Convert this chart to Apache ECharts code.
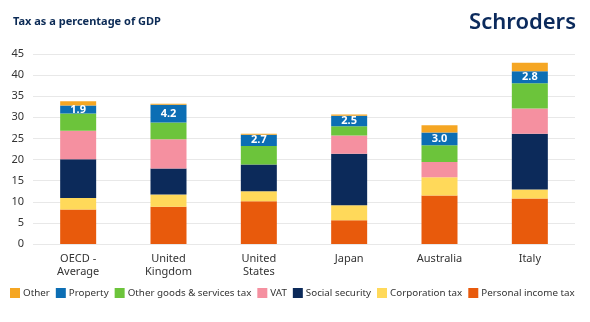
<!DOCTYPE html>
<html>
<head>
<meta charset="utf-8">
<script src="https://cdn.jsdelivr.net/npm/echarts@6/dist/echarts.min.js"></script>
<style>
  html, body { margin: 0; padding: 0; background: #fff; }
  #chart { width: 590px; height: 322px; }
</style>
</head>
<body>
<div id="chart"></div>
<script>
// Tax revenue by type, % of GDP
const countries = ['OECD -\nAverage', 'United\nKingdom', 'United\nStates', 'Japan', 'Australia', 'Italy'];

const personalIncome = [8.2, 8.8, 10.1, 5.6, 11.5, 10.8];
const corporation    = [2.7, 2.9, 2.4, 3.6, 4.3, 2.1];
const socialSecurity = [9.2, 6.2, 6.3, 12.2, 0, 13.2];
const vat            = [6.7, 6.9, 0, 4.3, 3.6, 6.0];
const otherGoods     = [4.1, 4.0, 4.4, 2.2, 4.0, 6.0];
const property       = [1.9, 4.2, 2.7, 2.5, 3.0, 2.8];
const other          = [1.0, 0.2, 0.2, 0.3, 1.7, 2.0];

const yTicks = [0, 5, 10, 15, 20, 25, 30, 35, 40, 45];

const legendOrder = ['Other', 'Property', 'Other goods & services tax', 'VAT',
  'Social security', 'Corporation tax', 'Personal income tax'];

const font = 'Noto Sans';

function bar(name, data, color, withLabel) {
  const s = {
    name: name,
    type: 'bar',
    stack: 'tax',
    barWidth: 36,
    data: data,
    itemStyle: { color: color },
    emphasis: { disabled: true }
  };
  if (withLabel) {
    s.label = {
      show: true,
      position: 'inside',
      color: '#ffffff',
      fontFamily: font,
      fontWeight: 'bold',
      fontSize: 11,
      formatter: p => p.value.toFixed(1)
    };
  }
  return s;
}

const chart = echarts.init(document.getElementById('chart'), null, { renderer: 'canvas' });
chart.setOption({
  animation: false,
  textStyle: { fontFamily: font },
  title: {
    text: 'Tax as a percentage of GDP',
    left: 8,
    top: 11,
    textStyle: { fontFamily: font, fontSize: 11, fontWeight: 'bold', color: '#0b2a55' }
  },
  graphic: [{
    type: 'text',
    right: 14,
    top: 12,
    style: {
      text: 'Schroders',
      fontFamily: font,
      fontSize: 22,
      fontWeight: 600,
      fill: '#0b2a5c'
    }
  }],
  legend: {
    data: legendOrder,
    top: 288,
    left: 10,
    width: 580,
    padding: 0,
    itemWidth: 10,
    itemHeight: 10,
    itemGap: 6,
    icon: 'rect',
    textStyle: { fontFamily: font, fontSize: 9.8, color: '#333', padding: [0, 0, 0, -2] }
  },
  grid: { left: 33, right: 15, top: 54, bottom: 78 },
  xAxis: {
    type: 'category',
    data: countries,
    axisLine: { show: false },
    axisTick: { show: false },
    axisLabel: { fontFamily: font, fontSize: 11, color: '#333', lineHeight: 13, margin: 8 }
  },
  yAxis: {
    type: 'value',
    min: yTicks[0],
    max: yTicks[yTicks.length - 1],
    interval: 5,
    axisLine: { show: false },
    axisTick: { show: false },
    axisLabel: { fontFamily: font, fontSize: 11, color: '#333', margin: 9 },
    splitLine: { lineStyle: { color: '#e8e8e8' } }
  },
  series: [
    bar('Personal income tax', personalIncome, '#e85a0c'),
    bar('Corporation tax', corporation, '#ffd95a'),
    bar('Social security', socialSecurity, '#0c2a5a'),
    bar('VAT', vat, '#f590a0'),
    bar('Other goods & services tax', otherGoods, '#6cc43b'),
    bar('Property', property, '#0c6eb4', true),
    bar('Other', other, '#f5a623')
  ]
});
</script>
</body>
</html>
